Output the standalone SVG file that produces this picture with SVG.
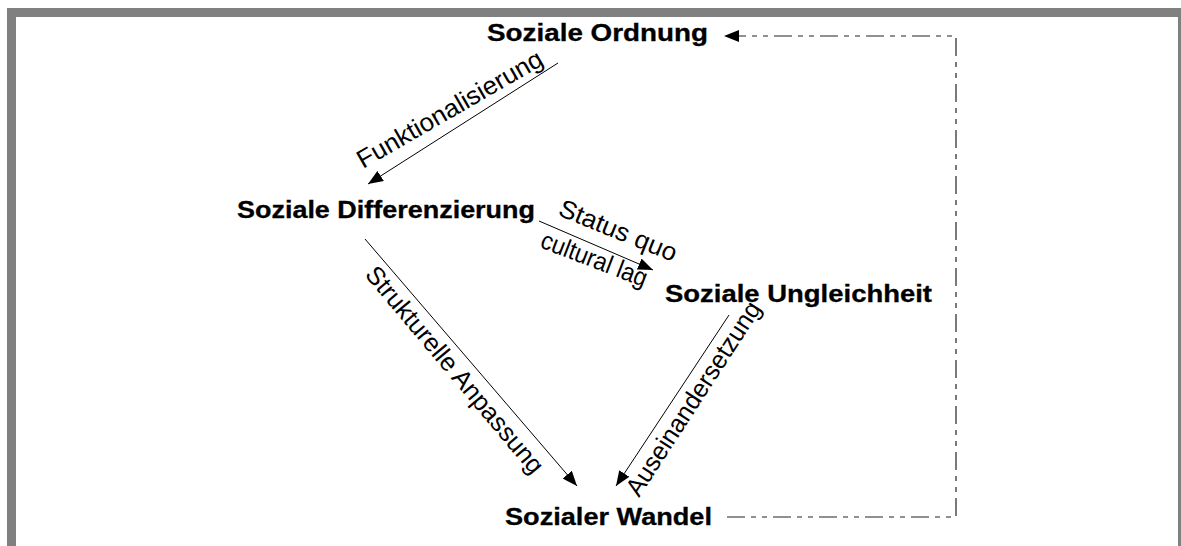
<svg xmlns="http://www.w3.org/2000/svg" width="1181" height="546" viewBox="0 0 1181 546">
  <style>
    .node { font-family: "Liberation Sans", Arial, sans-serif; font-weight: bold; font-size: 23px; fill: #000; stroke: #000; stroke-width: 0.3px; }
    .lbl { font-family: "Liberation Sans", Arial, sans-serif; font-size: 25.5px; fill: #000; }
    .edge { stroke: #000; stroke-width: 1; fill: none; }
    .fb { stroke: #222; stroke-width: 1.2; fill: none; stroke-dasharray: 18 6 5 6 5 6; }
    .frame { fill: #808080; }
  </style>
  <defs>
    <marker id="arr" markerUnits="userSpaceOnUse" markerWidth="16" markerHeight="12" refX="15" refY="6" orient="auto">
      <path d="M0,0 L15,6 L0,12 z" fill="#000"/>
    </marker>
  </defs>
  <rect width="1181" height="546" fill="#fff"/>
  <g id="frame">
    <rect class="frame" x="7" y="8" width="1174" height="9"/>
    <rect class="frame" x="7" y="8" width="9" height="538"/>
    <rect class="frame" x="1178" y="8" width="3" height="538"/>
  </g>
  <g id="connectors">
    <line class="edge" x1="558" y1="63" x2="368" y2="184" marker-end="url(#arr)"/>
    <line class="edge" x1="539" y1="221" x2="653" y2="270" marker-end="url(#arr)"/>
    <line class="edge" x1="365" y1="239" x2="577" y2="486" marker-end="url(#arr)"/>
    <line class="edge" x1="729" y1="315" x2="616" y2="486" marker-end="url(#arr)"/>
    <polyline class="fb" points="727,517 956,517 956,36 724,36" marker-end="url(#arr)"/>
    <text class="lbl" transform="translate(363,169) rotate(-30)" textLength="210" lengthAdjust="spacingAndGlyphs">Funktionalisierung</text>
    <text class="lbl" transform="translate(557,215) rotate(22)" textLength="125" lengthAdjust="spacingAndGlyphs">Status quo</text>
    <text class="lbl" transform="translate(539,247) rotate(21)" textLength="112" lengthAdjust="spacingAndGlyphs">cultural lag</text>
    <text class="lbl" transform="translate(364,275) rotate(50)" textLength="262" lengthAdjust="spacingAndGlyphs">Strukturelle Anpassung</text>
    <text class="lbl" transform="translate(639,498) rotate(-57)" textLength="226" lengthAdjust="spacingAndGlyphs">Auseinandersetzung</text>
  </g>
  <g id="n-ordnung"><text class="node" x="487" y="41" textLength="221" lengthAdjust="spacingAndGlyphs">Soziale Ordnung</text></g>
  <g id="n-differenzierung"><text class="node" x="237" y="218" textLength="298" lengthAdjust="spacingAndGlyphs">Soziale Differenzierung</text></g>
  <g id="n-ungleichheit"><text class="node" x="665" y="302" textLength="267" lengthAdjust="spacingAndGlyphs">Soziale Ungleichheit</text></g>
  <g id="n-wandel"><text class="node" x="505" y="525" textLength="207" lengthAdjust="spacingAndGlyphs">Sozialer Wandel</text></g>
</svg>
